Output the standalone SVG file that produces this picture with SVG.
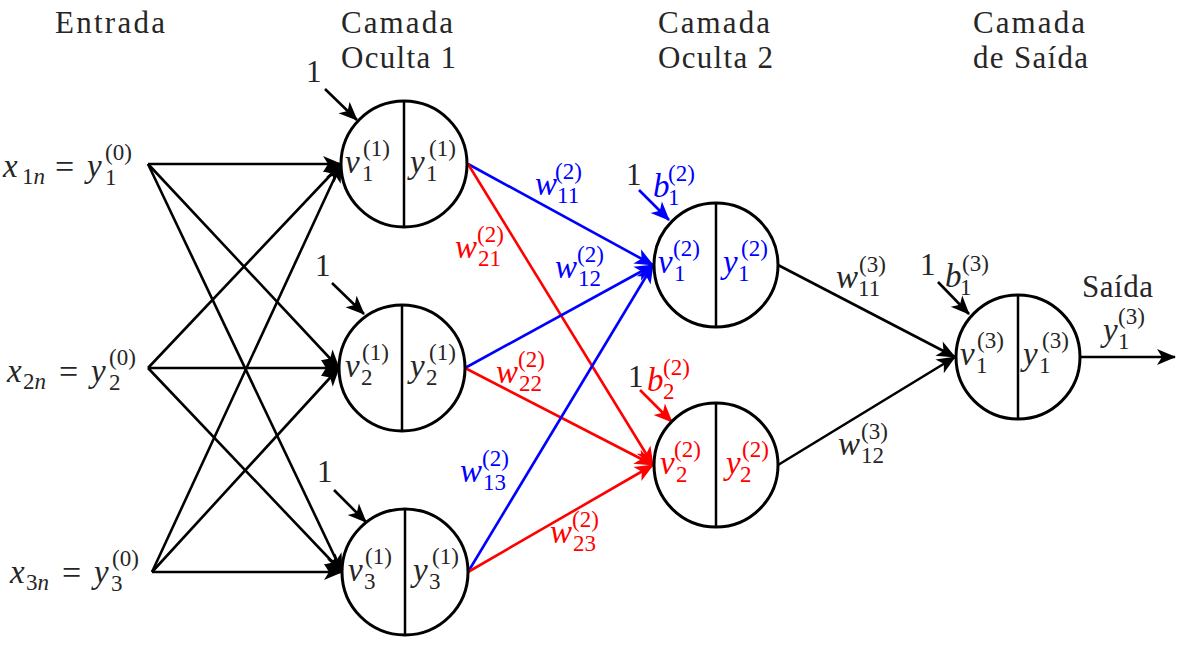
<svg xmlns="http://www.w3.org/2000/svg" width="1188" height="650" viewBox="0 0 1188 650">
<style>
.t{font-family:"Liberation Serif","DejaVu Serif",serif;font-size:31px;fill:#262626}
.m{font-family:"Liberation Serif","DejaVu Serif",serif;font-style:italic;font-size:33px;fill:#262626}
.s{font-family:"Liberation Serif","DejaVu Serif",serif;font-size:23px;fill:#262626}
.si{font-style:italic}
.n{font-family:"Liberation Serif","DejaVu Serif",serif;font-size:31px;fill:#262626}
.eq{font-family:"Liberation Serif","DejaVu Serif",serif;font-size:34px;fill:#262626}
.b{fill:#0000ff}
.r{fill:#ff0000}
.node circle{fill:#fff;stroke:#000;stroke-width:3}
.node line{stroke:#000;stroke-width:2.5}
.ck{stroke:#000;stroke-width:2.6;fill:none;marker-end:url(#ak)}
.cb{stroke:#0000ff;stroke-width:2.6;fill:none;marker-end:url(#ab)}
.cr{stroke:#ff0000;stroke-width:2.6;fill:none;marker-end:url(#ar)}
</style>
<defs>
<marker id="ak" markerUnits="userSpaceOnUse" markerWidth="20" markerHeight="20" refX="0" refY="0" orient="auto" overflow="visible"><path d="M1,0 L-18,-8 L-13,0 L-18,8 Z" fill="#000"/></marker>
<marker id="ab" markerUnits="userSpaceOnUse" markerWidth="20" markerHeight="20" refX="0" refY="0" orient="auto" overflow="visible"><path d="M1,0 L-18,-8 L-13,0 L-18,8 Z" fill="#0000ff"/></marker>
<marker id="ar" markerUnits="userSpaceOnUse" markerWidth="20" markerHeight="20" refX="0" refY="0" orient="auto" overflow="visible"><path d="M1,0 L-18,-8 L-13,0 L-18,8 Z" fill="#ff0000"/></marker>
</defs>
<rect width="1188" height="650" fill="#fff"/>

<g id="titles">
<text class="t" x="55" y="33" textLength="110" lengthAdjust="spacing">Entrada</text>
<text class="t" x="341" y="33" textLength="112" lengthAdjust="spacing">Camada</text>
<text class="t" x="341" y="68" textLength="115" lengthAdjust="spacing">Oculta 1</text>
<text class="t" x="658" y="33" textLength="112" lengthAdjust="spacing">Camada</text>
<text class="t" x="658" y="68" textLength="115" lengthAdjust="spacing">Oculta 2</text>
<text class="t" x="973" y="33" textLength="112" lengthAdjust="spacing">Camada</text>
<text class="t" x="973" y="68" textLength="115" lengthAdjust="spacing">de Saída</text>
<text class="t" x="1082" y="297" textLength="71" lengthAdjust="spacing">Saída</text>
</g>

<g id="connectors">
<!-- input to hidden 1 -->
<path class="ck" d="M148,164 L341,164"/>
<path class="ck" d="M148,164 L339,368"/>
<path class="ck" d="M148,164 L342,572"/>
<path class="ck" d="M148,368 L341,164"/>
<path class="ck" d="M148,368 L339,368"/>
<path class="ck" d="M148,368 L342,572"/>
<path class="ck" d="M152,572 L341,164"/>
<path class="ck" d="M152,572 L339,368"/>
<path class="ck" d="M152,572 L342,572"/>
<!-- bias hidden 1 -->
<path class="ck" d="M325,89 L357,120"/>
<path class="ck" d="M332,283 L364,314"/>
<path class="ck" d="M334,490 L366,522"/>
<!-- hidden 1 to hidden 2 -->
<path class="cb" d="M468,164 L653,265"/>
<path class="cr" d="M468,164 L653,465"/>
<path class="cb" d="M465,368 L653,265"/>
<path class="cr" d="M465,368 L653,465"/>
<path class="cb" d="M468,572 L653,265"/>
<path class="cr" d="M468,572 L653,465"/>
<!-- bias hidden 2 -->
<path class="cb" d="M639,190 L669,220"/>
<path class="cr" d="M640,390 L672,422"/>
<!-- hidden 2 to output -->
<path class="ck" d="M778,265 L955,357"/>
<path class="ck" d="M778,465 L955,357"/>
<path class="ck" d="M938,282 L969,314"/>
<path class="ck" d="M1080,357 L1175,357"/>
</g>

<g id="input-labels">
<text class="m" x="3" y="177">x</text><text class="s" x="22" y="184">1<tspan class="si">n</tspan></text>
<text class="eq" x="55" y="178">=</text>
<text class="m" x="87" y="177">y</text><text class="s" x="105" y="160">(0)</text><text class="s" x="105" y="185">1</text>

<text class="m" x="7" y="382">x</text><text class="s" x="23" y="389">2<tspan class="si">n</tspan></text>
<text class="eq" x="59" y="383">=</text>
<text class="m" x="91" y="382">y</text><text class="s" x="109" y="365">(0)</text><text class="s" x="109" y="390">2</text>

<text class="m" x="10" y="583">x</text><text class="s" x="26" y="590">3<tspan class="si">n</tspan></text>
<text class="eq" x="62" y="584">=</text>
<text class="m" x="94" y="583">y</text><text class="s" x="112" y="566">(0)</text><text class="s" x="111" y="591">3</text>
</g>

<g id="bias-labels">
<text class="n" x="306" y="82">1</text>
<text class="n" x="315" y="276">1</text>
<text class="n" x="317" y="482">1</text>
<text class="n" x="626" y="185">1</text>
<text class="m b" x="653" y="197">b</text><text class="s b" x="668" y="181">(2)</text><text class="s b" x="668" y="205">1</text>
<text class="n" x="628" y="387">1</text>
<text class="m r" x="647" y="391">b</text><text class="s r" x="663" y="375">(2)</text><text class="s r" x="663" y="399">2</text>
<text class="n" x="920" y="275">1</text>
<text class="m" x="945" y="287">b</text><text class="s" x="962" y="271">(3)</text><text class="s" x="960" y="295">1</text>
</g>

<g id="weight-labels">
<text class="m b" x="535" y="195">w</text><text class="s b" x="555" y="179">(2)</text><text class="s b" x="557" y="203">11</text>
<text class="m r" x="455" y="258">w</text><text class="s r" x="477" y="242">(2)</text><text class="s r" x="478" y="266">21</text>
<text class="m b" x="555" y="278">w</text><text class="s b" x="577" y="262">(2)</text><text class="s b" x="578" y="286">12</text>
<text class="m r" x="496" y="383">w</text><text class="s r" x="518" y="367">(2)</text><text class="s r" x="519" y="391">22</text>
<text class="m b" x="460" y="482">w</text><text class="s b" x="482" y="466">(2)</text><text class="s b" x="483" y="490">13</text>
<text class="m r" x="550" y="543">w</text><text class="s r" x="572" y="527">(2)</text><text class="s r" x="573" y="551">23</text>
<text class="m" x="836" y="288">w</text><text class="s" x="859" y="272">(3)</text><text class="s" x="858" y="296">11</text>
<text class="m" x="838" y="455">w</text><text class="s" x="861" y="439">(3)</text><text class="s" x="861" y="463">12</text>
</g>

<g id="h1-1" class="node">
<circle cx="404" cy="164" r="63"/><line x1="404" y1="101" x2="404" y2="227"/>
<text class="m" x="345" y="173">v</text><text class="s" x="363" y="156">(1)</text><text class="s" x="362" y="181">1</text>
<text class="m" x="410" y="173">y</text><text class="s" x="429" y="156">(1)</text><text class="s" x="426" y="181">1</text>
</g>
<g id="h1-2" class="node">
<circle cx="402" cy="368" r="63"/><line x1="402" y1="305" x2="402" y2="431"/>
<text class="m" x="345" y="377">v</text><text class="s" x="362" y="360">(1)</text><text class="s" x="361" y="385">2</text>
<text class="m" x="410" y="377">y</text><text class="s" x="429" y="360">(1)</text><text class="s" x="426" y="385">2</text>
</g>
<g id="h1-3" class="node">
<circle cx="405" cy="572" r="63"/><line x1="405" y1="509" x2="405" y2="635"/>
<text class="m" x="348" y="581">v</text><text class="s" x="365" y="564">(1)</text><text class="s" x="364" y="589">3</text>
<text class="m" x="413" y="581">y</text><text class="s" x="432" y="564">(1)</text><text class="s" x="429" y="589">3</text>
</g>
<g id="h2-1" class="node">
<circle cx="716" cy="265" r="62"/><line x1="716" y1="203" x2="716" y2="327"/>
<text class="m b" x="658" y="273">v</text><text class="s b" x="673" y="256">(2)</text><text class="s b" x="674" y="281">1</text>
<text class="m b" x="723" y="273">y</text><text class="s b" x="741" y="256">(2)</text><text class="s b" x="738" y="281">1</text>
</g>
<g id="h2-2" class="node">
<circle cx="716" cy="465" r="62"/><line x1="716" y1="403" x2="716" y2="527"/>
<text class="m r" x="660" y="474">v</text><text class="s r" x="674" y="457">(2)</text><text class="s r" x="676" y="482">2</text>
<text class="m r" x="726" y="474">y</text><text class="s r" x="742" y="457">(2)</text><text class="s r" x="740" y="482">2</text>
</g>
<g id="out-1" class="node">
<circle cx="1018" cy="357" r="62"/><line x1="1018" y1="295" x2="1018" y2="419"/>
<text class="m" x="960" y="365">v</text><text class="s" x="977" y="348">(3)</text><text class="s" x="976" y="373">1</text>
<text class="m" x="1023" y="365">y</text><text class="s" x="1042" y="348">(3)</text><text class="s" x="1039" y="373">1</text>
</g>

<g id="output-label">
<text class="m" x="1103" y="341">y</text><text class="s" x="1118" y="324">(3)</text><text class="s" x="1118" y="349">1</text>
</g>
</svg>
